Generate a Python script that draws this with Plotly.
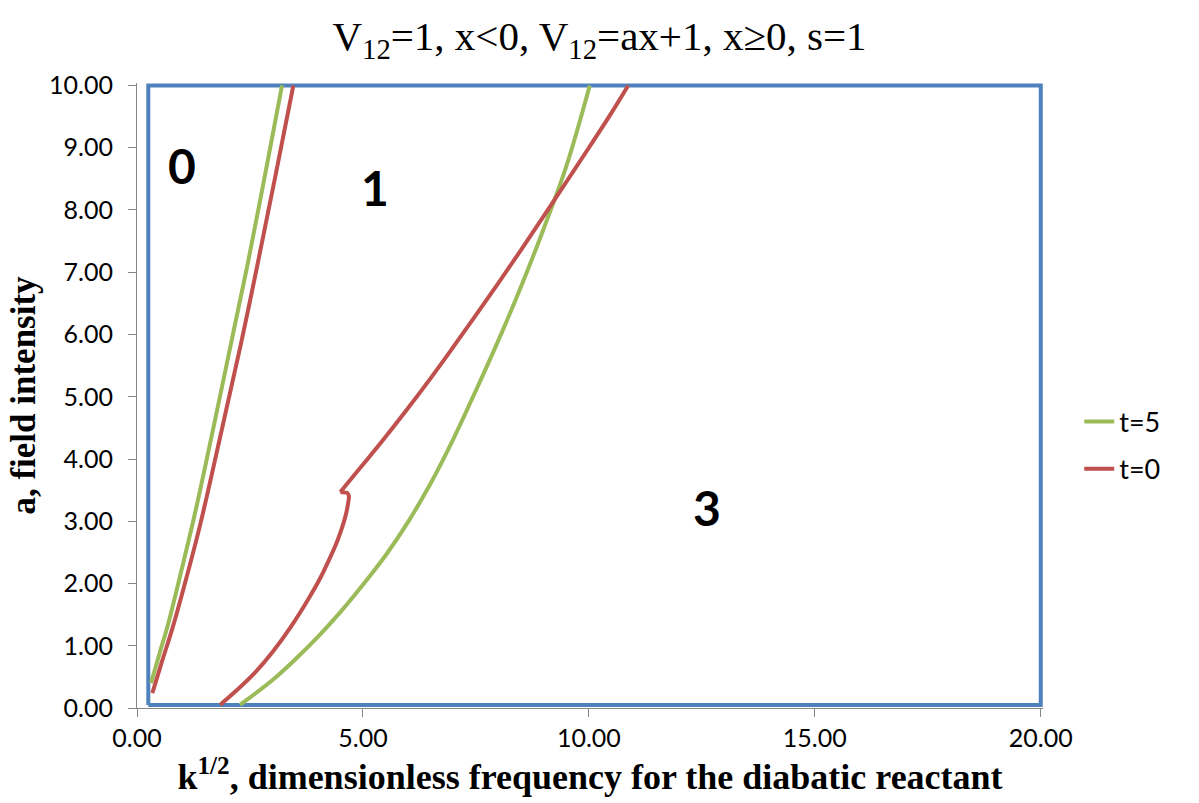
import plotly.graph_objects as go

# ---- data ----
# t=5 (green), left branch
g_left_x = [0.31, 0.50, 0.69, 0.94, 1.30, 1.69, 2.05, 2.44, 2.83, 3.21]
g_left_y = [0.40, 0.88, 1.35, 2.08, 3.18, 4.50, 5.75, 7.10, 8.55, 10.00]
# t=5 (green), right branch
g_right_x = [2.28, 3.00, 3.50, 4.05, 4.50, 5.00, 5.52, 6.00, 6.50, 7.00, 7.50, 8.00, 8.50, 9.00, 9.50, 10.02]
g_right_y = [0.05, 0.45, 0.78, 1.18, 1.54, 1.98, 2.47, 2.99, 3.61, 4.32, 5.10, 5.91, 6.77, 7.70, 8.70, 10.00]
# t=0 (red), left branch
r_left_x = [0.34, 0.55, 0.80, 1.06, 1.40, 1.87, 2.30, 2.66, 3.05, 3.46]
r_left_y = [0.24, 0.74, 1.32, 2.00, 2.95, 4.45, 5.85, 7.10, 8.50, 10.00]
# t=0 (red), right branch: lower part up to the kink near a=3.47
r_low_x = [1.84, 2.20, 2.60, 3.00, 3.40, 3.80, 4.05, 4.25, 4.42, 4.54, 4.62, 4.67, 4.69, 4.66, 4.50]
r_low_y = [0.05, 0.28, 0.56, 0.90, 1.30, 1.76, 2.08, 2.38, 2.66, 2.90, 3.10, 3.28, 3.40, 3.45, 3.47]
# t=0 (red), right branch: upper part from the kink
r_up_x = [4.50, 5.00, 5.45, 5.97, 6.50, 7.00, 7.50, 8.00, 8.50, 9.00, 9.50, 10.00, 10.50, 10.87]
r_up_y = [3.47, 3.91, 4.31, 4.79, 5.30, 5.80, 6.31, 6.83, 7.36, 7.90, 8.45, 9.00, 9.56, 10.00]
# blue frame series
frame_x = [0.25, 0.25, 20.0, 20.0, 0.25]
frame_y = [0.05, 10.0, 10.0, 0.05, 0.05]

# region labels
region_text = ["0", "1", "3"]
region_x = [1.0, 5.26, 12.61]
region_y = [8.72, 8.36, 3.22]

x_ticks = [0, 5, 10, 15, 20]
y_ticks = [0, 1, 2, 3, 4, 5, 6, 7, 8, 9, 10]

GREEN = "#9BBB59"
RED = "#C0504D"
BLUE = "#4F81BD"
AXIS_GRAY = "#868686"
SANS = "Lato, 'Open Sans', sans-serif"
SERIF = "'Liberation Serif', 'DejaVu Serif', serif"

fig = go.Figure()
fig.add_trace(go.Scatter(x=frame_x, y=frame_y, mode="lines",
                         line=dict(color=BLUE, width=4), showlegend=False, hoverinfo="skip"))
fig.add_trace(go.Scatter(x=g_left_x, y=g_left_y, mode="lines", name="t=5",
                         legendgroup="t5", line=dict(color=GREEN, width=4, shape="spline")))
fig.add_trace(go.Scatter(x=g_right_x, y=g_right_y, mode="lines", name="t=5",
                         legendgroup="t5", showlegend=False,
                         line=dict(color=GREEN, width=4, shape="spline")))
fig.add_trace(go.Scatter(x=r_left_x, y=r_left_y, mode="lines", name="t=0",
                         legendgroup="t0", line=dict(color=RED, width=4, shape="spline")))
fig.add_trace(go.Scatter(x=r_low_x, y=r_low_y, mode="lines", name="t=0",
                         legendgroup="t0", showlegend=False,
                         line=dict(color=RED, width=4, shape="spline", smoothing=0.8)))
fig.add_trace(go.Scatter(x=r_up_x, y=r_up_y, mode="lines", name="t=0",
                         legendgroup="t0", showlegend=False,
                         line=dict(color=RED, width=4, shape="spline")))

for t, x, y in zip(region_text, region_x, region_y):
    fig.add_annotation(x=x, y=y, text="<b>" + t + "</b>", showarrow=False,
                       font=dict(family=SANS, size=48, color="black"))

fig.update_layout(
    width=1199, height=803,
    margin=dict(l=137, r=156, t=83, b=95),
    paper_bgcolor="white", plot_bgcolor="white",
    title=dict(text="V<sub>12</sub>=1, x&lt;0, V<sub>12</sub>=ax+1, x≥0, s=1",
               x=0.5, xanchor="center", y=0.955, yanchor="middle",
               font=dict(family=SERIF, size=41, color="black")),
    legend=dict(x=1.04, xanchor="left", y=0.42, yanchor="middle",
                font=dict(family=SANS, size=27, color="black"),
                tracegroupgap=9, bgcolor="rgba(0,0,0,0)"),
    showlegend=True,
)
fig.update_xaxes(range=[0, 20.05], tickvals=x_ticks, tickformat=".2f",
                 showgrid=False, zeroline=False, showline=True, linecolor=AXIS_GRAY,
                 ticks="outside", ticklen=8, tickcolor=AXIS_GRAY,
                 tickfont=dict(family=SANS, size=25, color="black"),
                 title=dict(text="<b>k<sup>1/2</sup>, dimensionless frequency for the diabatic reactant</b>",
                            font=dict(family=SERIF, size=36, color="black"), standoff=8))
fig.update_yaxes(range=[0, 10.04], tickvals=y_ticks, tickformat=".2f",
                 showgrid=False, zeroline=False, showline=True, linecolor=AXIS_GRAY,
                 ticks="outside", ticklen=8, tickcolor=AXIS_GRAY, ticklabelstandoff=10,
                 tickfont=dict(family=SANS, size=25, color="black"),
                 title=dict(text="<b>a, field intensity</b>",
                            font=dict(family=SERIF, size=35, color="black"), standoff=2))

fig.write_html("out.html")
